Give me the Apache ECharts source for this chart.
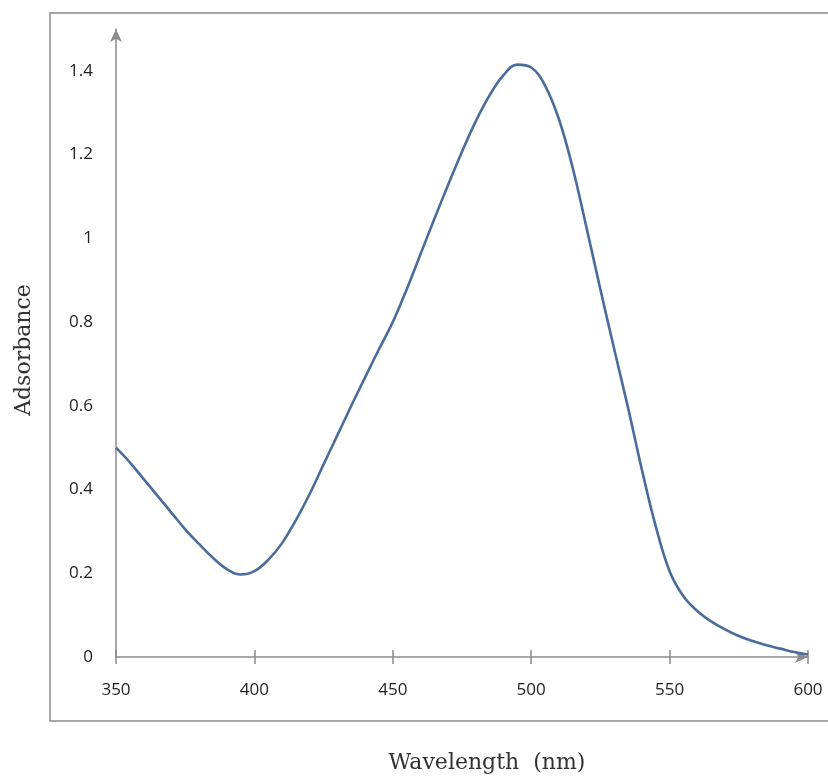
<!DOCTYPE html>
<html>
<head>
<meta charset="utf-8">
<script src="https://cdn.jsdelivr.net/npm/echarts@6/dist/echarts.min.js"></script>
<style>
  html, body { margin: 0; padding: 0; background: #fff; }
</style>
</head>
<body>
<div id="main" style="width: 828px;height:782px;"></div>
<script>
// wavelength (nm) and absorbance
const wavelength = [350, 355, 360, 365, 370, 375, 380, 385, 390, 395, 400, 405, 410, 415, 420, 425, 430, 435, 440, 445,
  450, 455, 460, 465, 470, 475, 480, 485, 490, 495, 500, 505, 510, 515, 520, 525, 530, 535, 540, 545,
  550, 555, 560, 565, 570, 575, 580, 585, 590, 595, 600]
const absorbance = [0.50, 0.465, 0.425, 0.385, 0.345, 0.305, 0.27, 0.237, 0.21, 0.197, 0.205, 0.232, 0.272, 0.327, 0.39, 0.46, 0.53, 0.6, 0.668, 0.735,
  0.80, 0.878, 0.962, 1.046, 1.128, 1.207, 1.28, 1.342, 1.39, 1.415, 1.408, 1.365, 1.285, 1.168, 1.025, 0.878, 0.735, 0.595, 0.447, 0.312,
  0.205, 0.145, 0.11, 0.085, 0.066, 0.05, 0.038, 0.028, 0.02, 0.012, 0.006]

const xTicks = { min: 350, max: 600, interval: 50 }
const yTicks = { min: 0, max: 1.5, interval: 0.2 }

const axisGray = '#8c8c8c'
const lineColor = '#4a6c9b'

var myChart = echarts.init(document.getElementById('main'))

const points = wavelength.map((w, i) => [w, absorbance[i]])

var option = {
  animation: false,
  grid: {
    left: 116,
    right: 20,
    top: 29,
    bottom: 125
  },
  graphic: [
    {
      // outer frame
      type: 'rect',
      shape: { x: 50, y: 13, width: 820, height: 708 },
      style: { fill: 'none', stroke: '#8a8a8a', lineWidth: 1.5 },
      z: -1
    },
    {
      type: 'text',
      style: {
        text: 'Adsorbance',
        font: '22px "DejaVu Serif"',
        fill: '#333',
        align: 'center',
        verticalAlign: 'middle'
      },
      x: 24,
      y: 350,
      rotation: Math.PI / 2
    },
    {
      type: 'text',
      style: {
        text: 'Wavelength  (nm)',
        font: '22px "DejaVu Serif"',
        fill: '#333',
        x: 487,
        y: 763,
        align: 'center',
        verticalAlign: 'middle'
      }
    }
  ],
  xAxis: [
    {
      type: 'value',
      min: xTicks.min,
      max: xTicks.max,
      interval: xTicks.interval,
      splitLine: { show: false },
      axisLine: {
        show: true,
        symbol: ['none', 'arrow'],
        symbolSize: [9, 13],
        lineStyle: { color: axisGray, width: 1.5 }
      },
      axisTick: { show: true, inside: false, length: 7, lineStyle: { color: axisGray, width: 1.5 } },
      axisLabel: {
        margin: 25,
        color: '#1e1e1e',
        fontFamily: 'Open Sans',
        fontSize: 17
      }
    },
    {
      // second axis only to draw the inside half of the ticks
      type: 'value',
      position: 'bottom',
      min: xTicks.min,
      max: xTicks.max,
      interval: xTicks.interval,
      splitLine: { show: false },
      axisLine: { show: false },
      axisTick: { show: true, inside: true, length: 7, lineStyle: { color: axisGray, width: 1.5 } },
      axisLabel: { show: false }
    }
  ],
  yAxis: {
    type: 'value',
    min: yTicks.min,
    max: yTicks.max,
    interval: yTicks.interval,
    splitLine: { show: false },
    axisLine: {
      show: true,
      symbol: ['none', 'arrow'],
      symbolSize: [9, 13],
      lineStyle: { color: axisGray, width: 1.5 }
    },
    axisTick: { show: false },
    axisLabel: {
      margin: 23,
      color: '#1e1e1e',
      fontFamily: 'Open Sans',
      fontSize: 17,
      showMaxLabel: false
    }
  },
  series: [
    {
      type: 'line',
      data: points,
      smooth: 0.4,
      showSymbol: false,
      lineStyle: { color: lineColor, width: 2.6 },
      z: 3
    }
  ]
}

myChart.setOption(option)
</script>
</body>
</html>
